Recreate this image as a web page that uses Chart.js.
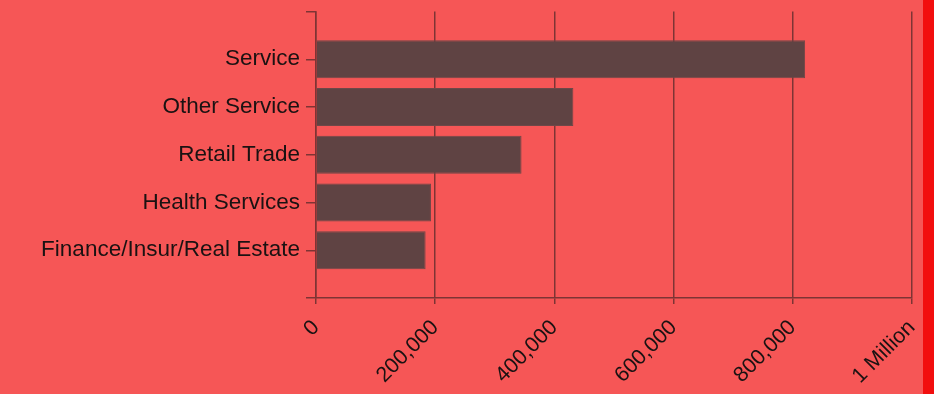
<!DOCTYPE html>
<html>
<head>
<meta charset="utf-8">
<script src="https://cdn.jsdelivr.net/npm/chart.js@4"></script>
<style>
  html, body { margin: 0; padding: 0; background: #F20E0E; }
  #wrap { width: 923px; height: 394px; background: #F65656; overflow: hidden; position: relative; }
  #chart { position: absolute; left: 0; top: -8px; }
</style>
</head>
<body>
<div id="wrap"><canvas id="chart" width="941" height="402"></canvas></div>
<script>
// Industries and their totals
const categories = ['Service', 'Other Service', 'Retail Trade', 'Health Services', 'Finance/Insur/Real Estate'];
const totals = [821000, 432000, 345000, 193000, 184000];
const xTickLabels = ['0', '200,000', '400,000', '600,000', '800,000', '1 Million'];

const lineColor = '#7E3434';
const textColor = '#1A1212';

// blank slots top and bottom give the axis its end padding
const labels = [''].concat(categories, ['']);
const values = [null].concat(totals, [null]);

new Chart(document.getElementById('chart'), {
    type: 'bar',
    data: {
        labels: labels,
        datasets: [{
            data: values,
            backgroundColor: '#5F4343',
            borderColor: '#6E4848',
            borderWidth: 1,
            barPercentage: 0.8,
            categoryPercentage: 1.0
        }]
    },
    options: {
        indexAxis: 'y',
        responsive: false,
        animation: false,
        layout: { padding: 0 },
        plugins: { legend: { display: false }, tooltip: { enabled: false } },
        scales: {
            x: {
                min: 0,
                max: 1000000,
                ticks: {
                    stepSize: 200000,
                    minRotation: 45,
                    maxRotation: 45,
                    padding: 11,
                    color: textColor,
                    font: { family: 'Liberation Sans, Arial', size: 21.5 },
                    callback: (v, i) => xTickLabels[i]
                },
                grid: { color: lineColor, lineWidth: 1.5, tickLength: 6, drawTicks: true },
                border: { color: lineColor, width: 1.5 },
                afterFit: s => { s.height = 96; }
            },
            y: {
                offset: false,
                ticks: {
                    padding: 6,
                    color: textColor,
                    font: { family: 'Liberation Sans, Arial', size: 22.5 }
                },
                grid: { offset: false, drawOnChartArea: false, color: lineColor, lineWidth: 1.5, tickLength: 10 },
                border: { color: lineColor, width: 1.5 },
                afterFit: s => { s.width = 316; }
            }
        }
    }
});
</script>
</body>
</html>
